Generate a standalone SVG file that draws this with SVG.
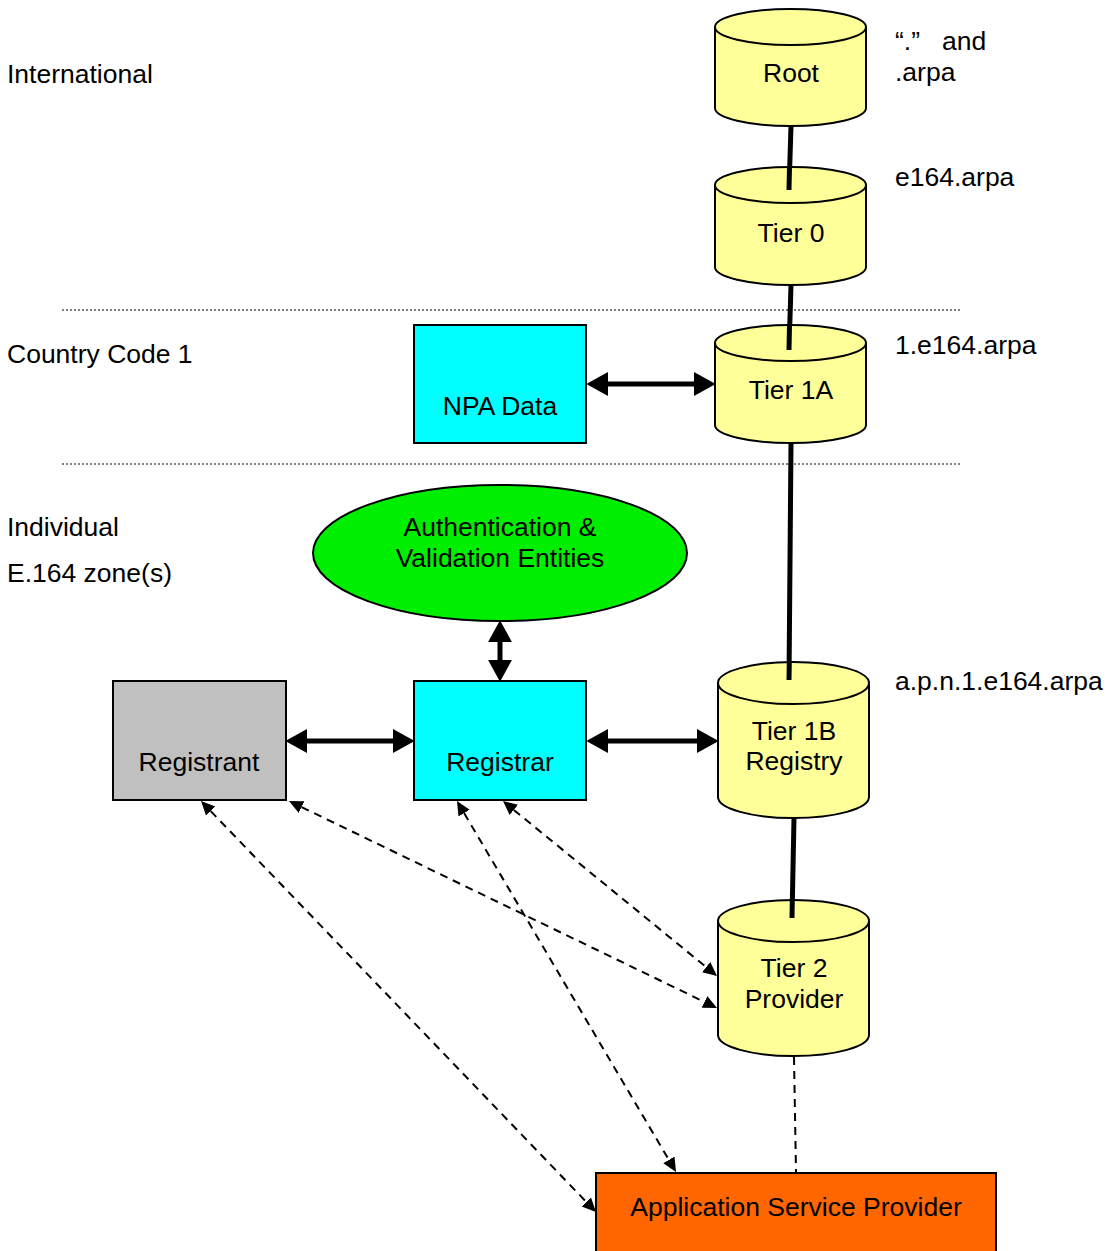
<svg xmlns="http://www.w3.org/2000/svg" width="1108" height="1251" viewBox="0 0 1108 1251">
<style>
text{font-family:"Liberation Sans",Arial,sans-serif;font-size:26.5px;fill:#000}
.c{text-anchor:middle}
.cyl{fill:#ffff99;stroke:#000;stroke-width:2}
.box{stroke:#000;stroke-width:2}
.thick{stroke:#000;stroke-width:5;fill:none}
.arr{stroke:#000;stroke-width:5;fill:none;marker-start:url(#big);marker-end:url(#big)}
.dash{stroke:#000;stroke-width:2;fill:none;stroke-dasharray:8 6}
.darr{stroke:#000;stroke-width:2;fill:none;stroke-dasharray:8 6;marker-start:url(#small);marker-end:url(#small)}
.dot{stroke:#555;stroke-width:1.5;stroke-dasharray:2 2}
</style>
<defs>
<marker id="big" markerUnits="userSpaceOnUse" markerWidth="24" markerHeight="26" viewBox="0 -12 22 24" refX="0" refY="0" orient="auto-start-reverse"><path d="M0,-11 L20,0 L0,11 z" fill="#000"/></marker>
<marker id="small" markerUnits="userSpaceOnUse" markerWidth="16" markerHeight="16" viewBox="0 -8 16 16" refX="0" refY="0" orient="auto-start-reverse"><path d="M0,-6.5 L14,0 L0,6.5 z" fill="#000"/></marker>
</defs>

<g id="separators">
<line class="dot" x1="62" y1="310" x2="960" y2="310"/>
<line class="dot" x1="62" y1="464" x2="960" y2="464"/>
</g>

<g id="labels">
<text x="7" y="83">International</text>
<text x="7" y="363">Country Code 1</text>
<text x="7" y="536">Individual</text>
<text x="7" y="582">E.164 zone(s)</text>
<text x="895" y="50" xml:space="preserve">“.”   and</text>
<text x="895" y="81">.arpa</text>
<text x="895" y="186">e164.arpa</text>
<text x="895" y="354">1.e164.arpa</text>
<text x="895" y="690">a.p.n.1.e164.arpa</text>
</g>

<g id="connectors">
<line class="thick" x1="791" y1="126" x2="789" y2="190"/>
<line class="thick" x1="791" y1="285" x2="789" y2="350"/>
<line class="thick" x1="791" y1="443" x2="789" y2="680"/>
<line class="thick" x1="794" y1="818" x2="792" y2="918"/>
<line class="arr" x1="608" y1="384" x2="694" y2="384"/>
<line class="arr" x1="500" y1="642" x2="500" y2="660"/>
<line class="arr" x1="307" y1="741" x2="393" y2="741"/>
<line class="arr" x1="608" y1="741" x2="697" y2="741"/>
<line class="darr" x1="210.7" y1="811.1" x2="586.3" y2="1201.9"/>
<line class="darr" x1="301.6" y1="807.1" x2="704.4" y2="1001.9"/>
<line class="darr" x1="464.1" y1="813.1" x2="668.9" y2="1159.9"/>
<line class="darr" x1="513.8" y1="809.9" x2="706.2" y2="967.1"/>
<line class="dash" x1="794" y1="1057" x2="796" y2="1172"/>
</g>

<g id="root">
<path class="cyl" d="M715,27 L715,108 A75.5,18 0 0 0 866,108 L866,27 A75.5,18 0 0 0 715,27 Z"/>
<path class="cyl" d="M715,27 A75.5,18 0 0 0 866,27" fill="none"/>
<text class="c" x="791" y="82">Root</text>
</g>

<g id="tier0">
<path class="cyl" d="M715,185 L715,267 A75.5,18 0 0 0 866,267 L866,185 A75.5,18 0 0 0 715,185 Z"/>
<path class="cyl" d="M715,185 A75.5,18 0 0 0 866,185" fill="none"/>
<line class="thick" x1="789.5" y1="167" x2="789" y2="190"/>
<text class="c" x="791" y="242">Tier 0</text>
</g>

<g id="tier1a">
<path class="cyl" d="M715,343 L715,425 A75.5,18 0 0 0 866,425 L866,343 A75.5,18 0 0 0 715,343 Z"/>
<path class="cyl" d="M715,343 A75.5,18 0 0 0 866,343" fill="none"/>
<line class="thick" x1="789.5" y1="325" x2="789" y2="350"/>
<text class="c" x="791" y="399">Tier 1A</text>
</g>

<g id="npa">
<rect class="box" x="414" y="325" width="172" height="118" fill="#00ffff"/>
<text class="c" x="500" y="415">NPA Data</text>
</g>

<g id="auth">
<ellipse class="box" cx="500" cy="553" rx="187" ry="68" fill="#00ee00"/>
<text class="c" x="500" y="536">Authentication &amp;</text>
<text class="c" x="500" y="567">Validation Entities</text>
</g>

<g id="registrant">
<rect class="box" x="113" y="681" width="173" height="119" fill="#c0c0c0"/>
<text class="c" x="199" y="771">Registrant</text>
</g>

<g id="registrar">
<rect class="box" x="414" y="681" width="172" height="119" fill="#00ffff"/>
<text class="c" x="500" y="771">Registrar</text>
</g>

<g id="tier1b">
<path class="cyl" d="M718,683 L718,797 A75.5,21 0 0 0 869,797 L869,683 A75.5,21 0 0 0 718,683 Z"/>
<path class="cyl" d="M718,683 A75.5,21 0 0 0 869,683" fill="none"/>
<line class="thick" x1="789.3" y1="662" x2="789" y2="680"/>
<text class="c" x="794" y="740">Tier 1B</text>
<text class="c" x="794" y="770">Registry</text>
</g>

<g id="tier2">
<path class="cyl" d="M718,921 L718,1035 A75.5,21 0 0 0 869,1035 L869,921 A75.5,21 0 0 0 718,921 Z"/>
<path class="cyl" d="M718,921 A75.5,21 0 0 0 869,921" fill="none"/>
<line class="thick" x1="792.3" y1="900" x2="792" y2="918"/>
<text class="c" x="794" y="977">Tier 2</text>
<text class="c" x="794" y="1008">Provider</text>
</g>

<g id="asp">
<rect class="box" x="596" y="1173" width="400" height="90" fill="#ff6600"/>
<text class="c" x="796" y="1216">Application Service Provider</text>
</g>
</svg>
